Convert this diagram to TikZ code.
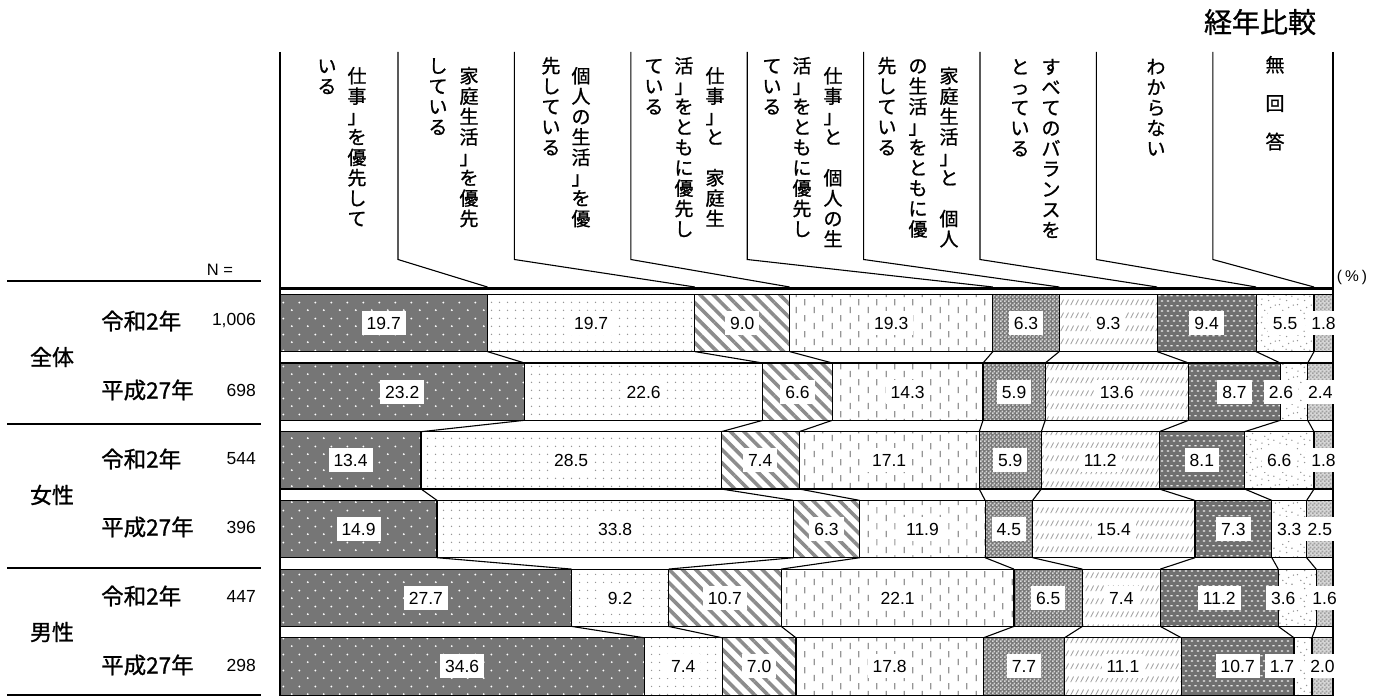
\documentclass[tikz,border=0pt]{standalone}
\usepackage{fontspec}
\setmainfont{Liberation Sans}
\newfontfamily\jp[FakeBold=1]{Noto Sans CJK JP}
\usetikzlibrary{patterns.meta}

\definecolor{darkA}{RGB}{118,118,118}
\definecolor{dotA}{RGB}{150,150,150}
\definecolor{stripeA}{RGB}{140,140,140}
\definecolor{slashA}{RGB}{165,165,165}
\definecolor{chkdark}{RGB}{120,120,120}
\definecolor{chklight}{RGB}{215,215,215}
\definecolor{brickA}{RGB}{112,112,112}
\definecolor{nadark}{RGB}{215,215,215}
\definecolor{nalight}{RGB}{160,160,160}

% fill patterns of the nine answers
\tikzdeclarepattern{name=wdots,type=uncolored,bottom left={(0pt,0pt)},top right={(16pt,16pt)},tile size={(16pt,16pt)},
  code={\fill (4pt,4pt) circle[radius=1.1pt]; \fill (12pt,12pt) circle[radius=1.1pt];}}
\tikzdeclarepattern{name=fdots,type=uncolored,bottom left={(0pt,0pt)},top right={(8pt,8pt)},tile size={(8pt,8pt)},
  code={\fill (4pt,4pt) circle[radius=.8pt];}}
\tikzdeclarepattern{name=vdash,type=uncolored,bottom left={(0pt,0pt)},top right={(18pt,16pt)},tile size={(18pt,16pt)},
  code={\draw[line width=1.3pt] (4.5pt,1pt) -- (4.5pt,7.5pt); \draw[line width=1.3pt] (13.5pt,9pt) -- (13.5pt,15.5pt);}}
\tikzdeclarepattern{name=chk,type=uncolored,bottom left={(0pt,0pt)},top right={(4pt,4pt)},tile size={(4pt,4pt)},
  code={\fill (0pt,0pt) rectangle (2pt,2pt); \fill (2pt,2pt) rectangle (4pt,4pt);}}
\tikzdeclarepattern{name=slash,type=uncolored,bottom left={(0pt,0pt)},top right={(5pt,13pt)},tile size={(5pt,13pt)},
  code={\draw[line width=1pt] (0.8pt,3pt) -- (4.2pt,9pt);}}
\tikzdeclarepattern{name=brick,type=uncolored,bottom left={(0pt,0pt)},top right={(6pt,10pt)},tile size={(6pt,10pt)},
  code={\draw[line width=1.3pt] (0.3pt,2.5pt) -- (2.9pt,2.5pt); \draw[line width=1.3pt] (3.3pt,7.5pt) -- (5.9pt,7.5pt);}}
\tikzdeclarepattern{name=sdots,type=uncolored,bottom left={(0pt,0pt)},top right={(18pt,18pt)},tile size={(18pt,18pt)},
  code={\fill (2pt,3pt) circle[radius=.8pt]; \fill (9pt,1.5pt) circle[radius=.8pt];
        \fill (14.5pt,6pt) circle[radius=.8pt]; \fill (5pt,10pt) circle[radius=.8pt];
        \fill (11pt,13pt) circle[radius=.8pt]; \fill (16pt,15.5pt) circle[radius=.8pt];
        \fill (1.5pt,16pt) circle[radius=.8pt]; \fill (8.5pt,7pt) circle[radius=.8pt];}}

\tikzset{
  seg/.style={draw=black,line width=1.2pt},
  pat1/.style={preaction={fill=darkA},pattern=wdots,pattern color=white},
  pat2/.style={preaction={fill=white},pattern=fdots,pattern color=dotA},
  pat3/.style={preaction={fill=white},pattern={Lines[angle=-45,distance=9.4pt,line width=3.6pt]},pattern color=stripeA},
  pat4/.style={preaction={fill=white},pattern=vdash,pattern color=dotA},
  pat5/.style={preaction={fill=chkdark},pattern=chk,pattern color=chklight},
  pat6/.style={preaction={fill=white},pattern=slash,pattern color=slashA},
  pat7/.style={preaction={fill=brickA},pattern=brick,pattern color=white!92!black},
  pat8/.style={preaction={fill=white},pattern=sdots,pattern color=dotA},
  pat9/.style={preaction={fill=nadark},pattern=chk,pattern color=nalight},
  lab/.style={fill=white,inner xsep=5pt,inner ysep=5.5pt,text height=13pt,text depth=0pt,font=\fontsize{17.5}{19}\selectfont},
  tate/.style={font=\jp\fontsize{19}{20.4}\selectfont,inner sep=0pt,anchor=north},
  grp/.style={font=\jp\fontsize{22}{24}\selectfont,inner sep=0pt},
  yr/.style={font=\jp\fontsize{22.5}{24}\selectfont,inner sep=0pt,anchor=west},
  num/.style={font=\fontsize{17.5}{19}\selectfont,inner sep=0pt,anchor=east},
  bordline/.style={line width=1.2pt},
  sepline/.style={line width=2.2pt}
}

% vertical text, one character per line
\def\tatestop{\tatestop}
\def\tatego#1{\ifx#1\tatestop\else\hbox to 1em{\hss\rule[-.12em]{0pt}{1em}#1\hss}\expandafter\tatego\fi}
\newcommand\tate[2][20.4pt]{\vbox{\baselineskip=#1\lineskiplimit=-\maxdimen\tatego#2\tatestop}}

% one bar: [left shift of the 8th label] {row} {values} {sum}
\newcommand\barrow[4][0]{%
  \pgfmathsetmacro\yt{294.3+68.7*(#2-1)}%
  \pgfmathsetmacro\yb{\yt+57.3}%
  \pgfmathsetmacro\ym{\yt+28.65}%
  \gdef\cum{0}%
  \foreach \v [count=\i] in {#3} {%
    \pgfmathsetmacro\xa{280+\cum/#4*1053}%
    \pgfmathsetmacro\cnew{\cum+\v}%
    \pgfmathsetmacro\xb{280+\cnew/#4*1053}%
    \pgfmathsetmacro\xm{(\xa+\xb)/2-(\i==8)*#1}%
    \draw[seg,pat\i] (\xa,\yt) rectangle (\xb,\yb);
    \coordinate (t#2-\i) at (\xb,\yt);
    \coordinate (b#2-\i) at (\xb,\yb);
    \coordinate (c#2-\i) at (\xm,\ym);
    \xdef\cum{\cnew}%
  }
  \foreach \v [count=\i] in {#3}
    \node[lab] (l#2-\i) at (c#2-\i) {\v};
}

\begin{document}
\begin{tikzpicture}[x=1pt,y=-1pt]
\useasboundingbox (0,0) rectangle (1381,698);
\node[font=\jp\fontsize{28}{30}\selectfont,inner sep=0pt] (title) at (1260,22) {経年比較};
\node[font=\fontsize{15.5}{17}\selectfont,inner sep=0pt] (pct) at (1352,277) {(\hspace{3pt}\%\hspace{3pt})};
\node[font=\fontsize{16.5}{18}\selectfont,inner sep=0pt] (nlab) at (220,270) {N =};
% frame
\coordinate (tl) at (280,52);
\coordinate (bl) at (280,695);
\coordinate (tr) at (1333,52);
\coordinate (br) at (1333,695);
\draw[bordline] (tl) -- (bl);
\draw[bordline] (tr) -- (br);
\draw[sepline] (tl |- 0,288.5) -- (tr |- 0,288.5);
\draw[sepline] (7,281) -- (261,281);
\draw[sepline] (7,424) -- (261,424);
\draw[sepline] (7,568) -- (261,568);
\draw[sepline] (7,695) -- (261,695);
% bars
\barrow{1}{19.7,19.7,9.0,19.3,6.3,9.3,9.4,5.5,1.8}{100}
\barrow[13]{2}{23.2,22.6,6.6,14.3,5.9,13.6,8.7,2.6,2.4}{99.9}
\barrow{3}{13.4,28.5,7.4,17.1,5.9,11.2,8.1,6.6,1.8}{100}
\barrow{4}{14.9,33.8,6.3,11.9,4.5,15.4,7.3,3.3,2.5}{99.9}
\barrow[14]{5}{27.7,9.2,10.7,22.1,6.5,7.4,11.2,3.6,1.6}{100}
\barrow[21]{6}{34.6,7.4,7.0,17.8,7.7,11.1,10.7,1.7,2.0}{100}
\foreach \r/\s in {1/2,2/3,3/4,4/5,5/6}
  \foreach \i in {1,...,8}
    \draw[bordline,line width=1.1pt] (b\r-\i) -- (t\s-\i);
% header columns
\foreach \i in {1,...,8} {
  \pgfmathsetmacro\dx{398+116.4*(\i-1)}
  \coordinate (d\i) at (\dx,52);
  \draw[bordline,line width=1.1pt] (d\i) -- (d\i |- 0,259.5) -- (t1-\i |- 0,287);
}
\node[tate] (h1a) at (357,66) {\tate{仕事」を優先して}};
\node[tate] (h1b) at (327,56) {\tate{いる}};
\node[tate] (h2a) at (469,66) {\tate{家庭生活」を優先}};
\node[tate] (h2b) at (438,56) {\tate{している}};
\node[tate] (h3a) at (581,66) {\tate{個人の生活」を優}};
\node[tate] (h3b) at (551,56) {\tate{先している}};
\node[tate] (h4a) at (715,66) {\tate{仕事」と　家庭生}};
\node[tate] (h4b) at (684,56) {\tate{活」をともに優先し}};
\node[tate] (h4c) at (654,56) {\tate{ている}};
\node[tate] (h5a) at (833,66) {\tate{仕事」と　個人の生}};
\node[tate] (h5b) at (802,56) {\tate{活」をともに優先し}};
\node[tate] (h5c) at (772,56) {\tate{ている}};
\node[tate] (h6a) at (949,66) {\tate{家庭生活」と　個人}};
\node[tate] (h6b) at (918,56) {\tate{の生活」をともに優}};
\node[tate] (h6c) at (887,56) {\tate{先している}};
\node[tate] (h7a) at (1051,57) {\tate{すべてのバランスを}};
\node[tate] (h7b) at (1020,57) {\tate{とっている}};
\node[tate] (h8a) at (1156,57) {\tate{わからない}};
\node[tate] (h9a) at (1275,55) {\tate[38.5pt]{無回答}};
% row labels
\node[grp] (all) at (52,357) {全体};
\node[grp] (fem) at (52,495) {女性};
\node[grp] (mal) at (52,632) {男性};
\node[yr] (y1) at (101,321) {令和2年};
\node[yr] (y2) at (101,390) {平成27年};
\node[yr] (y3) at (101,459) {令和2年};
\node[yr] (y4) at (101,527) {平成27年};
\node[yr] (y5) at (101,596) {令和2年};
\node[yr] (y6) at (101,665) {平成27年};
\node[num] (n1) at (256,321) {1,006};
\node[num] (n2) at (256,390) {698};
\node[num] (n3) at (256,459) {544};
\node[num] (n4) at (256,527) {396};
\node[num] (n5) at (256,596) {447};
\node[num] (n6) at (256,665) {298};
\end{tikzpicture}
\end{document}
